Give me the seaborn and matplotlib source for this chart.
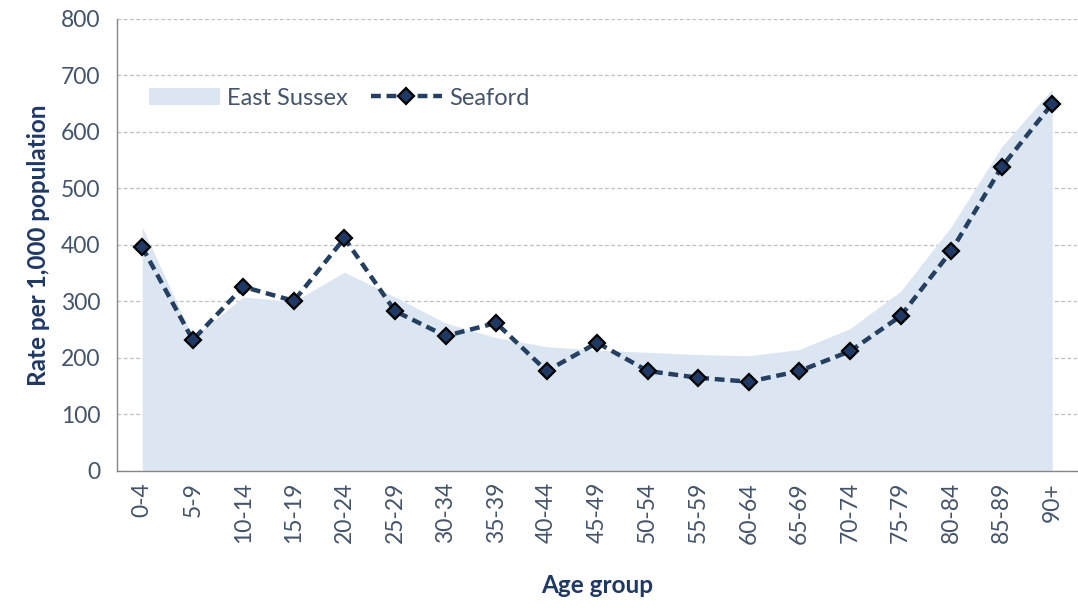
import numpy as np
import pandas as pd
import matplotlib.pyplot as plt
import seaborn as sns

# Data
age_groups = ['0-4', '5-9', '10-14', '15-19', '20-24', '25-29', '30-34', '35-39',
              '40-44', '45-49', '50-54', '55-59', '60-64', '65-69', '70-74',
              '75-79', '80-84', '85-89', '90+']
east_sussex = [432, 236, 308, 300, 352, 308, 262, 236, 220, 214, 210, 206,
               204, 215, 252, 318, 432, 574, 676]
seaford = [396, 232, 326, 301, 412, 283, 239, 262, 177, 227, 177, 165,
           158, 177, 212, 274, 389, 538, 650]

df = pd.DataFrame({'age': age_groups, 'pos': np.arange(len(age_groups)),
                   'east_sussex': east_sussex, 'seaford': seaford})

sns.set_style('white')
plt.rcParams['font.family'] = ['Lato', 'DejaVu Sans']

text_col = '#44546A'
navy = '#1F3864'

fig = plt.figure(figsize=(10.78, 6.12), dpi=100)
ax = fig.add_axes([0.1085, 0.2304, 0.891, 0.7386])

ax.fill_between(df['pos'], 0, df['east_sussex'], color='#DCE6F2', lw=0,
                label='East Sussex', zorder=1)
sns.lineplot(data=df, x='pos', y='seaford', ax=ax, color='#243F60', lw=3.2,
             marker='D', markersize=8.5, markerfacecolor=navy,
             markeredgecolor='black', markeredgewidth=1.6, label='Seaford',
             zorder=3)
ax.lines[-1].set_linestyle((0, (2.2, 1.3)))

ax.set_xlim(-0.5, len(age_groups) - 0.5)
ax.set_ylim(0, 800)
ax.set_yticks(range(0, 801, 100))
ax.yaxis.grid(True, color='#BFBFBF', ls=(0, (3, 2)), lw=0.9)
ax.set_axisbelow(True)

ax.set_xticks(df['pos'])
ax.set_xticklabels(age_groups, rotation=90)
ax.set_xticks(np.arange(-0.5, len(age_groups)), minor=True)
ax.tick_params(axis='x', which='major', length=0, pad=8, labelsize=16.5,
               labelcolor=text_col)
ax.tick_params(axis='x', which='minor', length=7, color='#868686', width=1)
ax.tick_params(axis='y', length=7, color='#868686', width=1, labelsize=16.5,
               labelcolor=text_col, pad=5)

for side in ['top', 'right']:
    ax.spines[side].set_visible(False)
for side in ['left', 'bottom']:
    ax.spines[side].set_color('#868686')
    ax.spines[side].set_linewidth(1)

ax.set_xlabel('Age group', fontsize=17.5, fontweight='bold', color=navy, labelpad=22)
ax.set_ylabel('Rate per 1,000 population', fontsize=17.5, fontweight='bold',
              color=navy, labelpad=8)

leg = ax.legend(loc='upper left', bbox_to_anchor=(0.011, 0.895), ncol=2,
                frameon=False, fontsize=17, handlelength=3.0, columnspacing=1.0,
                handletextpad=0.3)
for t in leg.get_texts():
    t.set_color(text_col)

fig.savefig('out.png', dpi=100)
